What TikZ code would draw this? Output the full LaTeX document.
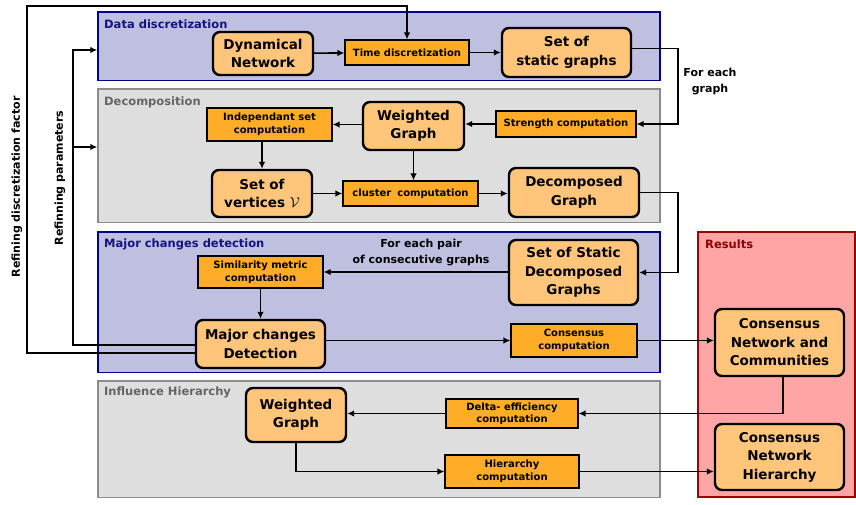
\documentclass[tikz,border=0pt]{standalone}
\usepackage{fontspec}
\setmainfont{DejaVu Sans}
\usetikzlibrary{arrows.meta}
\definecolor{bluefill}{RGB}{191,191,224}
\definecolor{blueborder}{RGB}{0,0,140}
\definecolor{bluetitle}{RGB}{20,20,130}
\definecolor{grayfill}{RGB}{222,222,222}
\definecolor{grayborder}{RGB}{140,140,140}
\definecolor{graytitle}{RGB}{100,100,100}
\definecolor{redfill}{RGB}{255,165,165}
\definecolor{redborder}{RGB}{160,0,0}
\definecolor{redtitle}{RGB}{139,0,0}
\definecolor{bigfill}{RGB}{255,197,122}
\definecolor{smallfill}{RGB}{255,172,40}
\tikzset{
  panel/.style={draw, line width=1.4pt, inner sep=0pt},
  bluepanel/.style={panel, draw=blueborder, fill=bluefill},
  graypanel/.style={panel, draw=grayborder, fill=grayfill},
  redpanel/.style={panel, draw=redborder, fill=redfill},
  ptitle/.style={anchor=base west, inner sep=0pt, font=\fontsize{11.5}{13}\selectfont\bfseries},
  bigbox/.style={draw, line width=2.4pt, rounded corners=7pt, fill=bigfill, inner sep=0pt, align=center,
    font=\fontsize{13.5}{18.5}\selectfont\bfseries},
  smallbox/.style={draw, line width=1.1pt, fill=smallfill, inner sep=0pt, align=center,
    font=\fontsize{10}{13}\selectfont\bfseries},
  lbl/.style={inner sep=0pt, align=center, font=\fontsize{11}{16}\selectfont\bfseries},
  arr/.style={line width=1.6pt, -{Latex[length=7pt,width=6.5pt]}},
}
\begin{document}
\begin{tikzpicture}[x=1pt,y=-1pt]
\useasboundingbox (0,0) rectangle (856,504);
% panels
\node[bluepanel, minimum width=562, minimum height=68.5] (p1) at (379,46.25) {};
\node[graypanel, minimum width=562, minimum height=133.5] (p2) at (379,155.75) {};
\node[bluepanel, minimum width=562, minimum height=140.7] (p3) at (379,302.35) {};
\node[graypanel, minimum width=562, minimum height=116.5] (p4) at (379,439.25) {};
\node[redpanel, minimum width=157, minimum height=265] (p5) at (776.5,364.5) {};
\node[ptitle, text=bluetitle] (t1) at (104,28) {Data discretization};
\node[ptitle, text=graytitle] (t2) at (104,105) {Decomposition};
\node[ptitle, text=bluetitle] (t3) at (104,247.5) {Major changes detection};
\node[ptitle, text=graytitle] (t4) at (104,395.5) {Influence Hierarchy};
\node[ptitle, text=redtitle] (t5) at (705,248) {Results};
% nodes
\node[bigbox, minimum width=100, minimum height=43] (dyn) at (263,53.5) {Dynamical\\Network};
\node[smallbox, minimum width=124, minimum height=25] (time) at (407,52.5) {Time discretization};
\node[bigbox, minimum width=129, minimum height=49] (sog) at (566.5,52.5) {Set of\\static graphs};
\node[smallbox, minimum width=140, minimum height=26] (str) at (566,124) {Strength computation};
\node[bigbox, minimum width=101, minimum height=48] (wg1) at (413.5,126) {Weighted\\Graph};
\node[smallbox, minimum width=125, minimum height=33] (ind) at (269.5,124.5) {Independant set\\computation};
\node[bigbox, minimum width=100, minimum height=47] (sov) at (262,193.5) {Set of\\vertices $\mathcal{V}$};
\node[smallbox, minimum width=135, minimum height=25] (clu) at (410.5,193.5) {cluster\hspace{0.6em}computation};
\node[bigbox, minimum width=130, minimum height=49] (dec) at (574,192.5) {Decomposed\\Graph};
\node[bigbox, minimum width=129, minimum height=65] (ssd) at (573.5,272.5) {Set of Static\\Decomposed\\Graphs};
\node[smallbox, minimum width=125, minimum height=32] (sim) at (260.5,272) {Similarity metric\\computation};
\node[bigbox, minimum width=129, minimum height=48] (mcd) at (260.5,344) {Major changes\\Detection};
\node[smallbox, minimum width=126, minimum height=33] (cons) at (574,340.5) {Consensus\\computation};
\node[bigbox, minimum width=129, minimum height=67] (cnc) at (779.5,342.5) {Consensus\\Network and\\Communities};
\node[bigbox, minimum width=100, minimum height=54] (wg2) at (296,415) {Weighted\\Graph};
\node[smallbox, minimum width=132, minimum height=29, font=\fontsize{10}{12}\selectfont\bfseries] (del) at (512,413.5) {Delta- efficiency\\computation};
\node[smallbox, minimum width=134, minimum height=33] (hier) at (512,471.5) {Hierarchy\\computation};
\node[bigbox, minimum width=129, minimum height=66] (cnh) at (779.5,457) {Consensus\\Network\\Hierarchy};
% labels
\node[lbl] (fe) at (710,82) {For each\\graph};
\node[lbl] (fep) at (421,253) {For each pair\\of consecutive graphs};
\node[lbl, rotate=90] (l1) at (17,187) {Refining discretization factor};
\node[lbl, rotate=90] (l2) at (60,178) {Refinning parameters};
% connectors
\draw[arr] (dyn) -- (time);
\draw[arr] (time) -- (sog);
\draw[arr] ([yshift=4pt]sog.east) -- ++(46,0) |- (str.east);
\draw[arr] (str) -- (str -| wg1.east);
\draw[arr] (wg1.west |- ind) -- (ind.east);
\draw[arr] (ind.south -| sov) -- (sov.north);
\draw[arr] (wg1.south) -- (wg1.south |- clu.north);
\draw[arr] (sov.east |- clu) -- (clu.west);
\draw[arr] (clu.east) -- (clu.east -| dec.west);
\draw[arr] (dec.east) -- ++(38,0) |- (ssd.east);
\draw[arr] (ssd.west |- sim) -- (sim.east);
\draw[arr] (sim.south) -- (mcd.north);
\draw[arr] (mcd.east |- cons) -- (cons.west);
\draw[arr] (cons.east) -- (cons.east -| cnc.west);
\draw[arr] ([xshift=3.5pt]cnc.south) |- (del.east);
\draw[arr] (del.west) -- (del.west -| wg2.east);
\draw[arr] (wg2.south) |- (hier.west);
\draw[arr] (hier.east) -- (hier.east -| cnh.west);
% feedback
\coordinate (rdc) at (27,6);
\coordinate (rpc) at (73,50);
\coordinate (rpb) at (73,147);
\draw[arr] ([yshift=-9pt]mcd.west) -| (rdc) -| (time.north);
\draw[arr] ([yshift=-1pt]mcd.west) -| (rpc) -- (rpc -| p1.west);
\draw[arr] (rpb) -- (rpb -| p2.west);
\end{tikzpicture}
\end{document}
